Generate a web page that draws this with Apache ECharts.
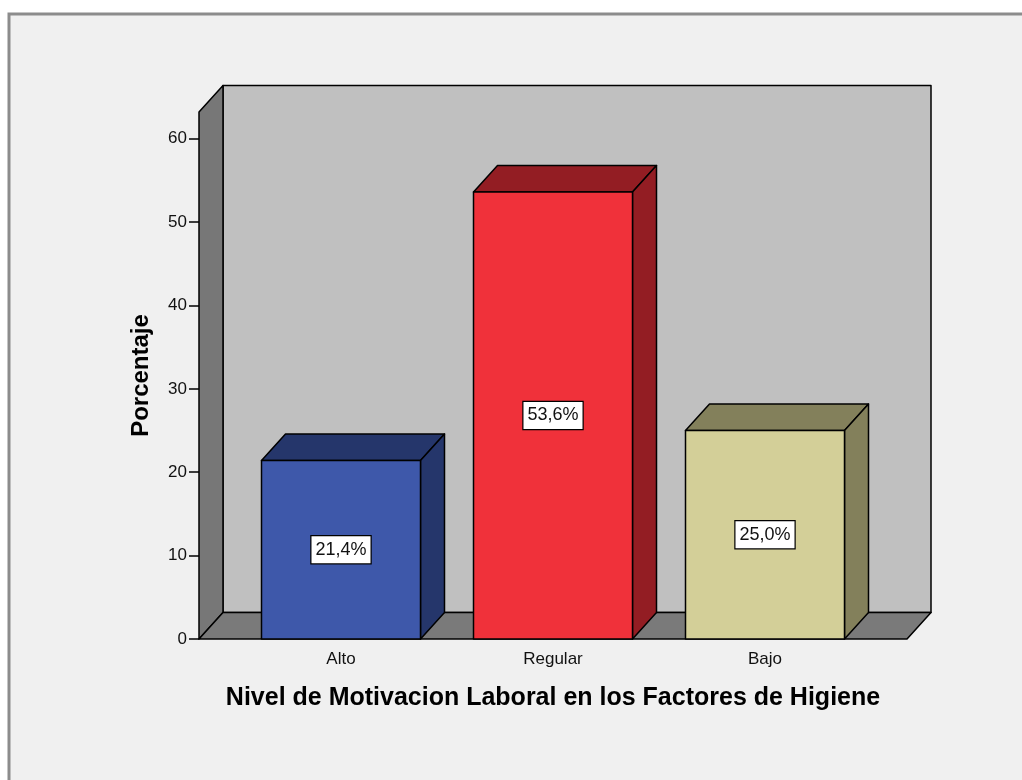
<!DOCTYPE html>
<html>
<head>
<meta charset="UTF-8">
<title>Nivel de Motivacion Laboral</title>
<script src="https://cdn.jsdelivr.net/npm/echarts@6/dist/echarts.min.js"></script>
</head>
<body style="margin:0;background:#fff;">
<div id="main" style="width:1022px;height:780px;"></div>
<script type="text/javascript">
// datos
var categories = ['Alto', 'Regular', 'Bajo'];
var percentages = [21.4, 53.6, 25.0];
var yTicks = [0, 10, 20, 30, 40, 50, 60];
var yMax = 63.2;   // tope de las paredes

// colores cara frontal / cara oscura
var faceColors = ['#3e58aa', '#f0313a', '#d3cf98'];
var shadeColors = ['#25366b', '#931d23', '#83805b'];

var DX = 24, DY = 26.5;   // profundidad 3D
var SIDE = 36;            // las paredes sobresalen del grid

var myChart = echarts.init(document.getElementById('main'));

function walls(params, api) {
    var cs = params.coordSys;
    var y0 = api.coord([0, 0])[1];
    var yt = api.coord([0, yMax])[1];
    var xl = cs.x - SIDE, xr = cs.x + cs.width + SIDE;
    var line = { stroke: '#000', lineWidth: 1.5, lineJoin: 'round' };
    return {
        type: 'group',
        children: [
            { type: 'polygon', shape: { points: [[xl + DX, y0 - DY], [xl + DX, yt - DY], [xr + DX, yt - DY], [xr + DX, y0 - DY]] },
              style: Object.assign({ fill: '#c0c0c0' }, line) },
            { type: 'polygon', shape: { points: [[xl, y0], [xl, yt], [xl + DX, yt - DY], [xl + DX, y0 - DY]] },
              style: Object.assign({ fill: '#777777' }, line) },
            { type: 'polygon', shape: { points: [[xl, y0], [xr, y0], [xr + DX, y0 - DY], [xl + DX, y0 - DY]] },
              style: Object.assign({ fill: '#7a7a7a' }, line) }
        ]
    };
}

function bars(params, api) {
    var i = params.dataIndex;
    var val = api.value(1);
    var top = api.coord([api.value(0), val]);
    var base = api.coord([api.value(0), 0]);
    var w = api.size([1, 0])[0] * 0.75;
    var x0 = top[0] - w / 2, x1 = top[0] + w / 2;
    var t = top[1], b = base[1];
    var line = { stroke: '#000', lineWidth: 1.5, lineJoin: 'round' };
    return {
        type: 'group',
        children: [
            { type: 'polygon', shape: { points: [[x0, t], [x0 + DX, t - DY], [x1 + DX, t - DY], [x1, t]] },
              style: Object.assign({ fill: shadeColors[i] }, line) },
            { type: 'polygon', shape: { points: [[x1, t], [x1 + DX, t - DY], [x1 + DX, b - DY], [x1, b]] },
              style: Object.assign({ fill: shadeColors[i] }, line) },
            { type: 'rect', shape: { x: x0, y: t, width: w, height: b - t },
              style: Object.assign({ fill: faceColors[i] }, line) },
            { type: 'text', x: top[0], y: (t + b) / 2,
              style: {
                  text: val.toFixed(1).replace('.', ',') + '%',
                  font: '18px "Liberation Sans", Arial, sans-serif',
                  fill: '#111', align: 'center', verticalAlign: 'middle',
                  backgroundColor: '#fff', borderColor: '#000', borderWidth: 1.2,
                  padding: [5, 4, 4, 4]
              } }
        ]
    };
}

var option = {
    backgroundColor: '#fff',
    animation: false,
    graphic: [{
        type: 'rect', z: -10,
        shape: { x: 9, y: 14, width: 1040, height: 800 },
        style: { fill: '#f0f0f0', stroke: '#8c8c8c', lineWidth: 3 }
    }],
    grid: { left: 235, right: 151, top: 112, bottom: 141 },
    xAxis: {
        type: 'category',
        data: categories,
        name: 'Nivel de Motivacion Laboral en los Factores de Higiene',
        nameLocation: 'middle',
        nameGap: 47,
        nameTextStyle: { fontFamily: 'Liberation Sans', fontSize: 25, fontWeight: 'bold', color: '#000' },
        axisLine: { show: false },
        axisTick: { alignWithLabel: true, length: 10, lineStyle: { color: '#000', width: 1.5 } },
        axisLabel: { margin: 12, fontFamily: 'Liberation Sans', fontSize: 17, color: '#111' },
        splitLine: { show: false }
    },
    yAxis: {
        type: 'value',
        min: 0,
        max: yMax,
        offset: SIDE,
        name: 'Porcentaje',
        nameLocation: 'middle',
        nameGap: 46,
        nameTextStyle: { fontFamily: 'Liberation Sans', fontSize: 24, fontWeight: 'bold', color: '#000' },
        axisLine: { show: false },
        axisTick: { show: true, length: 10, customValues: yTicks, lineStyle: { color: '#000', width: 1.5 } },
        axisLabel: { margin: 12, customValues: yTicks, fontFamily: 'Liberation Sans', fontSize: 17, color: '#111' },
        splitLine: { show: false }
    },
    series: [{
        type: 'custom',
        renderItem: walls,
        data: [[0, 0]],
        z: 1,
        silent: true
    }, {
        type: 'custom',
        renderItem: bars,
        data: percentages.map(function (v, i) { return [i, v]; }),
        z: 2
    }]
};

myChart.setOption(option);
</script>
</body>
</html>
